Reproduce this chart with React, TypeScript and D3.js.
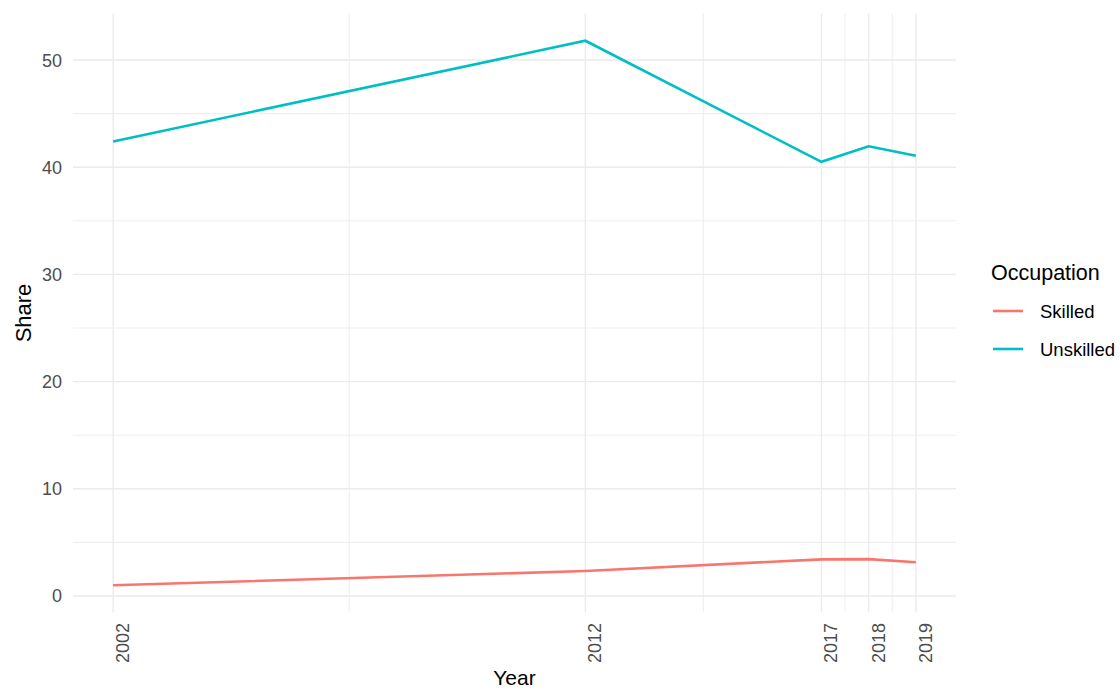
import React from "react";
import * as d3 from "d3";

const years = [2002, 2012, 2017, 2018, 2019];
const skilled = [1.0, 2.33, 3.42, 3.44, 3.15];
const unskilled = [42.4, 51.8, 40.5, 41.95, 41.07];
const seriesNames = ["Skilled", "Unskilled"];
const seriesColors = ["#F8766D", "#00BFC4"];
const yTicks = [0, 10, 20, 30, 40, 50];
const yMinor = [5, 15, 25, 35, 45];

const W = 1120;
const H = 691;
const FONT = "'Liberation Sans', Arial, sans-serif";

export default function App() {
  const panel = { left: 73, right: 956, top: 13.5, bottom: 612.5 };
  const xMin = 2002, xMax = 2019;
  const xPad = (xMax - xMin) * 0.05;
  const allY = [...skilled, ...unskilled];
  const yLo = d3.min(allY)!, yHi = d3.max(allY)!;
  const yPad = (yHi - yLo) * 0.05;
  const x = d3.scaleLinear().domain([xMin - xPad, xMax + xPad]).range([panel.left, panel.right]);
  const y = d3.scaleLinear().domain([yLo - yPad, yHi + yPad]).range([panel.bottom, panel.top]);

  const xMinor = years.slice(1).map((v, i) => (v + years[i]) / 2);
  const line = d3.line<[number, number]>().x(d => x(d[0])).y(d => y(d[1]));
  const series = [skilled, unskilled];

  return (
    <svg width={W} height={H} style={{ position: "absolute", left: 0, top: 0, background: "#fff" }} fontFamily={FONT}>
      <rect width={W} height={H} fill="#fff" />
      {yMinor.map(v => (
        <line key={"ym" + v} x1={panel.left} x2={panel.right} y1={y(v)} y2={y(v)} stroke="#EFEFEF" strokeWidth={1.1} />
      ))}
      {xMinor.map(v => (
        <line key={"xm" + v} x1={x(v)} x2={x(v)} y1={panel.top} y2={panel.bottom} stroke="#EFEFEF" strokeWidth={1.1} />
      ))}
      {yTicks.map(v => (
        <line key={"y" + v} x1={panel.left} x2={panel.right} y1={y(v)} y2={y(v)} stroke="#EBEBEB" strokeWidth={1.4} />
      ))}
      {years.map(v => (
        <line key={"x" + v} x1={x(v)} x2={x(v)} y1={panel.top} y2={panel.bottom} stroke="#EBEBEB" strokeWidth={1.4} />
      ))}
      {series.map((s, i) => (
        <path key={seriesNames[i]} d={line(years.map((yr, j) => [yr, s[j]]))!} fill="none" stroke={seriesColors[i]} strokeWidth={2.6} />
      ))}
      {yTicks.map(v => (
        <text key={"yt" + v} x={62} y={y(v)} dy="0.36em" textAnchor="end" fontSize={18} fill="#4D4D4D">{v}</text>
      ))}
      {years.map(v => (
        <text key={"xt" + v} transform={`translate(${x(v) + 16},${623}) rotate(-90)`} textAnchor="end" fontSize={18} fill="#4D4D4D">{v}</text>
      ))}
      <text transform={`translate(31,${(panel.top + panel.bottom) / 2}) rotate(-90)`} textAnchor="middle" fontSize={22} fill="#000">Share</text>
      <text x={(panel.left + panel.right) / 2} y={685} textAnchor="middle" fontSize={21} fill="#000">Year</text>
      <text x={991} y={280} fontSize={21.5} fill="#000">Occupation</text>
      {seriesNames.map((n, i) => (
        <g key={"lg" + n} transform={`translate(0,${311 + i * 38})`}>
          <line x1={993} x2={1023} y1={0} y2={0} stroke={seriesColors[i]} strokeWidth={2.6} />
          <text x={1040} y={0} dy="0.36em" fontSize={18.5} fill="#000">{n}</text>
        </g>
      ))}
    </svg>
  );
}
